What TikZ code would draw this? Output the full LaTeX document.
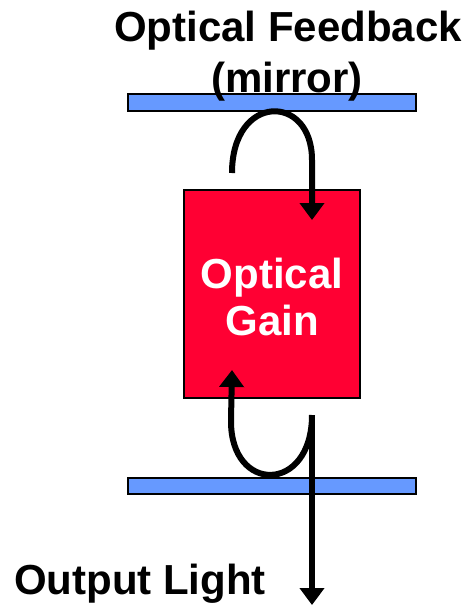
\documentclass[tikz,border=0pt]{standalone}
\usepackage{fontspec}
\setmainfont{Liberation Sans}
\usetikzlibrary{arrows.meta}
\definecolor{mirrorblue}{RGB}{102,153,255}
\definecolor{gainred}{RGB}{255,0,51}
\tikzset{
  mirror/.style={draw=black,line width=1.6pt,fill=mirrorblue},
  gainbox/.style={draw=black,line width=1.6pt,fill=gainred},
  lbl/.style={inner sep=0pt,anchor=base,font=\fontsize{42}{48}\selectfont\bfseries},
  beam/.style={line width=6pt,-{Triangle[width=24pt,length=17pt]}}
}
\begin{document}
\begin{tikzpicture}[x=1pt,y=-1pt]
\useasboundingbox (0,0) rectangle (470,606);
% mirrors and gain block
\draw[mirror] (128,94) rectangle (416,111);
\draw[mirror] (128,478) rectangle (416,494);
\node[gainbox,minimum width=176pt,minimum height=208pt,inner sep=0pt] (gain) at (272,294) {};
\coordinate (tl) at (232,173);
\coordinate (tr) at (312,220);
\coordinate (bl) at (232,370);
\coordinate (br) at (312,415);
\coordinate (out) at (312,605);
% loops
\draw[beam] (tl) .. controls (232,93) and (312,93) .. (312,160) -- (tr);
\draw[beam] (br) .. controls (312,494) and (230,494) .. (231,420) -- (bl);
\draw[beam] (br) -- (out);
% labels
\node[lbl] (t1) at (288,41) {Optical Feedback};
\node[lbl] (t2) at (287,92) {(mirror)};
\node[lbl,text=white] (g1) at (272,288) {Optical};
\node[lbl,text=white] (g2) at (272,335) {Gain};
\node[lbl] (o1) at (140,594) {Output Light};
\end{tikzpicture}
\end{document}
